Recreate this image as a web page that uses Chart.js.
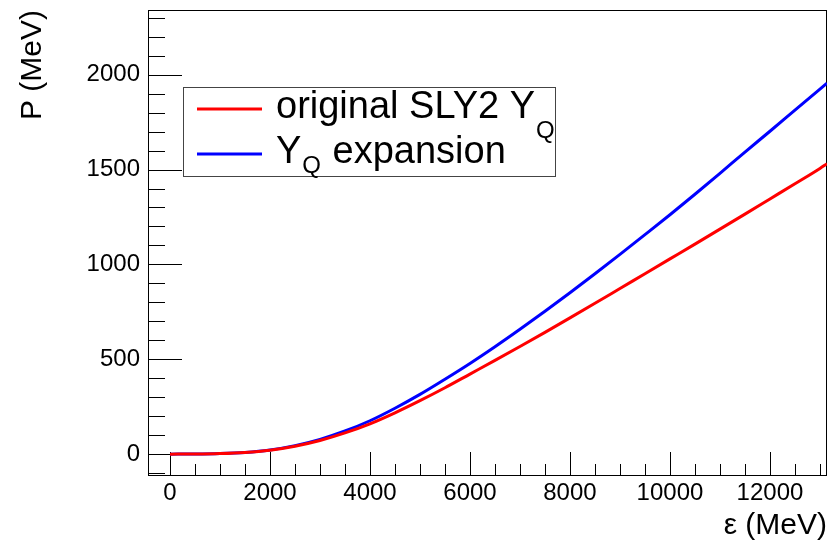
<!DOCTYPE html>
<html>
<head>
<meta charset="utf-8">
<script src="https://cdn.jsdelivr.net/npm/chart.js@4.4.1/dist/chart.umd.min.js"></script>
<style>
  html, body { margin: 0; padding: 0; background: #fff; }
  #wrap { width: 837px; height: 544px; }
</style>
</head>
<body>
<div id="wrap"><canvas id="eosChart" width="837" height="544"></canvas></div>
<script>
// energy density (MeV) and pressure (MeV) for both equations of state
const energy = [0, 500, 1000, 1500, 2000, 2500, 3000, 3500, 4000, 4500, 5000, 5500, 6000, 6500,
  7000, 7500, 8000, 8500, 9000, 9500, 10000, 10500, 11000, 11500, 12000, 12500, 13000, 13141];
const pOriginal = [0, 0.5, 3, 9, 21, 42, 72, 112, 160, 218, 282, 350, 422, 494,
  567, 642, 718, 795, 873, 951, 1029, 1107, 1186, 1265, 1345, 1425, 1506, 1531];
const pExpansion = [0, 0.5, 3, 9, 22, 45, 78, 122, 176, 242, 315, 395, 478, 566,
  658, 753, 851, 951, 1053, 1157, 1262, 1370, 1480, 1592, 1702, 1813, 1924, 1955];
const seriesNames = ['original SLY2 Y_Q', 'Y_Q expansion'];
const seriesColors = ['#ff0000', '#0000ff'];
const xTickValues = [0, 2000, 4000, 6000, 8000, 10000, 12000];
const yTickValues = [0, 500, 1000, 1500, 2000];

const FONT = '"Liberation Sans", Arial, Helvetica, sans-serif';

function toPoints(ys) {
  return energy.map((e, i) => ({ x: e, y: ys[i] }));
}

// frame plus inward ticks, ROOT style
const frameTicks = {
  id: 'frameTicks',
  beforeDatasetsDraw(chart) {
    const { ctx, chartArea, scales } = chart;
    const x = scales.x, y = scales.y;
    const L = Math.round(chartArea.left), R = Math.round(chartArea.right);
    const T = Math.round(chartArea.top), B = Math.round(chartArea.bottom);
    ctx.save();
    ctx.strokeStyle = '#000';
    ctx.lineWidth = 1;
    ctx.beginPath();
    for (let v = 0; v <= x.max; v += 500) {
      const px = Math.round(x.getPixelForValue(v)) + 0.5;
      const len = v % 2000 === 0 ? 23 : 11;
      ctx.moveTo(px, B);
      ctx.lineTo(px, B - len);
    }
    for (let v = -100; v <= y.max; v += 100) {
      if (v < y.min) continue;
      const py = Math.round(y.getPixelForValue(v)) + 0.5;
      const len = v % 500 === 0 ? 34 : 17;
      ctx.moveTo(L, py);
      ctx.lineTo(L + len, py);
    }
    ctx.stroke();
    ctx.strokeRect(L + 0.5, T + 0.5, R - L - 1, B - T);
    ctx.restore();
  }
};

// draws "A_B" with B as a subscript
function drawLabel(ctx, text, x, y, drop) {
  const parts = text.split('_');
  ctx.font = '38px ' + FONT;
  ctx.fillText(parts[0], x, y);
  x += ctx.measureText(parts[0]).width + 1;
  if (parts.length > 1) {
    const sub = parts[1].charAt(0);
    const rest = parts[1].slice(1);
    ctx.font = '24px ' + FONT;
    ctx.fillText(sub, x, y + drop);
    x += ctx.measureText(sub).width + 1;
    ctx.font = '38px ' + FONT;
    ctx.fillText(rest, x, y);
  }
}

const boxLegend = {
  id: 'boxLegend',
  afterDatasetsDraw(chart) {
    const { ctx } = chart;
    const bx = 183, by = 87, bw = 372, bh = 89;
    ctx.save();
    ctx.fillStyle = '#fff';
    ctx.fillRect(bx, by, bw, bh);
    ctx.strokeStyle = '#444';
    ctx.lineWidth = 1;
    ctx.strokeRect(bx + 0.5, by + 0.5, bw, bh);
    const rows = [109, 154];
    const drops = [20, 10];
    chart.data.datasets.forEach((ds, i) => {
      ctx.strokeStyle = ds.borderColor;
      ctx.lineWidth = 3;
      ctx.beginPath();
      ctx.moveTo(197, rows[i]);
      ctx.lineTo(262, rows[i]);
      ctx.stroke();
      ctx.fillStyle = '#000';
      ctx.textBaseline = 'alphabetic';
      ctx.textAlign = 'left';
      drawLabel(ctx, ds.label, 276, rows[i] + 9, drops[i]);
    });
    ctx.restore();
  }
};

new Chart(document.getElementById('eosChart'), {
  type: 'line',
  data: {
    datasets: [
      {
        label: seriesNames[0],
        data: toPoints(pOriginal),
        borderColor: seriesColors[0],
        borderWidth: 3,
        pointRadius: 0,
        cubicInterpolationMode: 'monotone',
        fill: false
      },
      {
        label: seriesNames[1],
        data: toPoints(pExpansion),
        borderColor: seriesColors[1],
        borderWidth: 3,
        pointRadius: 0,
        cubicInterpolationMode: 'monotone',
        fill: false
      }
    ]
  },
  options: {
    responsive: false,
    animation: false,
    events: [],
    layout: { padding: { top: 10, right: 10, left: 0, bottom: 0 } },
    plugins: {
      legend: { display: false },
      tooltip: { enabled: false }
    },
    scales: {
      x: {
        type: 'linear',
        min: -440,
        max: 13141,
        grid: { display: false, drawTicks: false },
        border: { display: false },
        afterBuildTicks: (s) => { s.ticks = xTickValues.map(v => ({ value: v })); },
        afterFit: (s) => { s.height = 69; s.paddingLeft = 0; s.paddingRight = 0; },
        ticks: {
          autoSkip: false,
          maxRotation: 0,
          padding: 4,
          color: '#000',
          font: { family: FONT, size: 24 },
          callback: (v) => String(v)
        },
        title: {
          display: true,
          text: 'ε (MeV)',
          align: 'end',
          color: '#000',
          font: { family: FONT, size: 30 },
          padding: { top: 0, bottom: 0 }
        }
      },
      y: {
        min: -110,
        max: 2341,
        grid: { display: false, drawTicks: false },
        border: { display: false },
        afterBuildTicks: (s) => { s.ticks = yTickValues.map(v => ({ value: v })); },
        afterFit: (s) => { s.width = 148; s.paddingTop = 0; s.paddingBottom = 0; },
        ticks: {
          autoSkip: false,
          padding: 8,
          color: '#000',
          font: { family: FONT, size: 24 },
          callback: (v) => String(v)
        },
        title: {
          display: true,
          text: 'P (MeV)',
          align: 'end',
          color: '#000',
          font: { family: FONT, size: 30 },
          padding: { top: 15, bottom: 0 }
        }
      }
    }
  },
  plugins: [frameTicks, boxLegend]
});
</script>
</body>
</html>
